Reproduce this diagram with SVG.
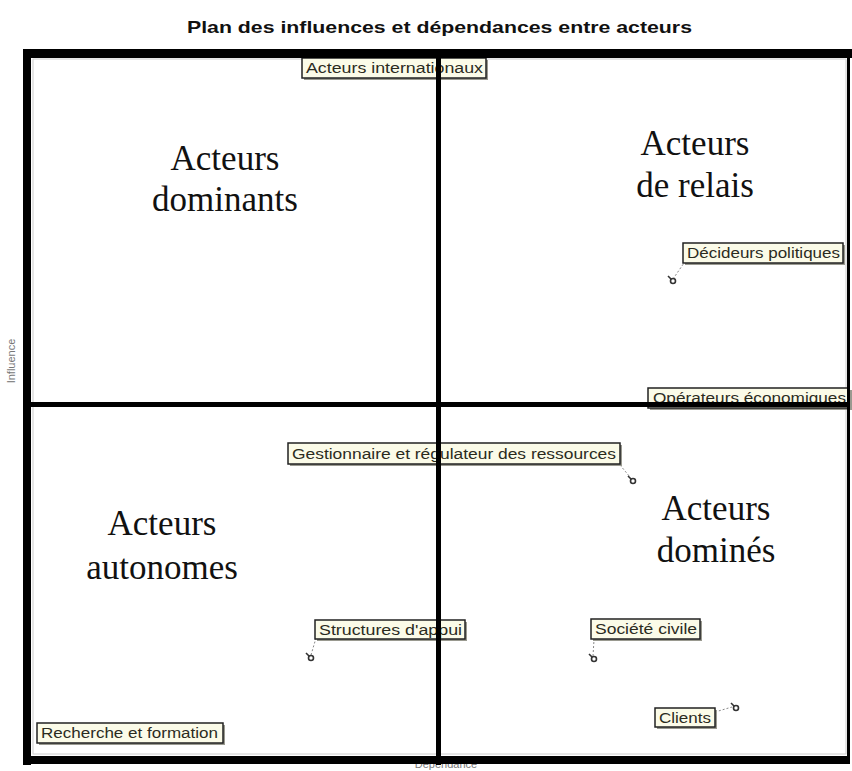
<svg xmlns="http://www.w3.org/2000/svg" width="852" height="771" viewBox="0 0 852 771">
<style>
.title{font-family:"Liberation Sans",Arial,sans-serif;font-weight:bold;font-size:17px;fill:#111}
.big{font-family:"Liberation Serif","Times New Roman",serif;font-size:35px;fill:#111;text-anchor:middle}
.axis{font-family:"Liberation Sans",Arial,sans-serif;font-size:11px;fill:#777}
.lbl rect.box{fill:#fbfbe8;stroke:#222;stroke-width:1.5}
.lbl rect.sh{fill:#9a9a90}
.lbl text{font-family:"Liberation Sans",Arial,sans-serif;font-size:14px;fill:#2b2b1e}
.lead{stroke:#888;stroke-width:1;stroke-dasharray:2 2;fill:none}
.mk circle{fill:none;stroke:#333;stroke-width:1.6}
.mk line{stroke:#333;stroke-width:1.6}
.thick{fill:#000}
</style>
<rect width="852" height="771" fill="#fff"/>
<text class="title" x="187" y="33" textLength="505" lengthAdjust="spacingAndGlyphs">Plan des influences et dépendances entre acteurs</text>
<rect x="33" y="59" width="813" height="695" fill="none" stroke="#ccc" stroke-width="1"/>
<text class="axis" transform="translate(15,361) rotate(-90)" text-anchor="middle">Influence</text>
<text class="axis" x="446" y="768" text-anchor="middle" font-size="12">Dépendance</text>

<g id="q-dominants"><text class="big" x="225" y="170">Acteurs</text><text class="big" x="225" y="211">dominants</text></g>
<g id="q-relais"><text class="big" x="695" y="155">Acteurs</text><text class="big" x="695" y="197">de relais</text></g>
<g id="q-autonomes"><text class="big" x="162" y="535">Acteurs</text><text class="big" x="162" y="579">autonomes</text></g>
<g id="q-domines"><text class="big" x="716" y="520">Acteurs</text><text class="big" x="716" y="562">dominés</text></g>

<g id="connectors">
<line class="lead" x1="673" y1="279" x2="684" y2="263"/>
<line class="lead" x1="620" y1="465" x2="630" y2="477"/>
<line class="lead" x1="311" y1="655" x2="316" y2="638"/>
<line class="lead" x1="593" y1="656" x2="594" y2="640"/>
<line class="lead" x1="715" y1="712" x2="732" y2="707"/>
</g>

<g id="n-internationaux" class="lbl"><rect class="sh" x="304" y="60" width="184" height="20"/><rect class="box" x="302" y="58" width="184" height="20"/><text x="306" y="73" textLength="177" lengthAdjust="spacingAndGlyphs">Acteurs internationaux</text></g>
<g id="n-decideurs" class="lbl"><rect class="sh" x="685" y="245" width="160" height="20"/><rect class="box" x="683" y="243" width="160" height="20"/><text x="687" y="258" textLength="153" lengthAdjust="spacingAndGlyphs">Décideurs politiques</text><g class="mk"><circle cx="673" cy="281" r="2.5"/><line x1="671" y1="279" x2="668" y2="276"/></g></g>
<g id="n-operateurs" class="lbl"><rect class="sh" x="650" y="390" width="202" height="20"/><rect class="box" x="648" y="388" width="201" height="20"/><text x="653" y="403" textLength="193" lengthAdjust="spacingAndGlyphs">Opérateurs économiques</text></g>
<g id="n-gestionnaire" class="lbl"><rect class="sh" x="290" y="445" width="332" height="21"/><rect class="box" x="288" y="443" width="332" height="21"/><text x="292" y="459" textLength="324" lengthAdjust="spacingAndGlyphs">Gestionnaire et régulateur des ressources</text><g class="mk"><circle cx="633" cy="481" r="2.5"/><line x1="631" y1="479" x2="628" y2="476"/></g></g>
<g id="n-structures" class="lbl"><rect class="sh" x="317" y="622" width="150" height="19"/><rect class="box" x="315" y="620" width="150" height="19"/><text x="319" y="635" textLength="143" lengthAdjust="spacingAndGlyphs">Structures d'appui</text><g class="mk"><circle cx="311" cy="658" r="2.5"/><line x1="309" y1="656" x2="306" y2="653"/></g></g>
<g id="n-societe" class="lbl"><rect class="sh" x="593" y="621" width="109" height="20"/><rect class="box" x="591" y="619" width="109" height="20"/><text x="595" y="634" textLength="102" lengthAdjust="spacingAndGlyphs">Société civile</text><g class="mk"><circle cx="594" cy="659" r="2.5"/><line x1="592" y1="657" x2="589" y2="654"/></g></g>
<g id="n-clients" class="lbl"><rect class="sh" x="657" y="710" width="60" height="19"/><rect class="box" x="655" y="708" width="60" height="19"/><text x="659" y="723" textLength="52" lengthAdjust="spacingAndGlyphs">Clients</text><g class="mk"><circle cx="736" cy="708" r="2.5"/><line x1="734" y1="706" x2="731" y2="703"/></g></g>
<g id="n-recherche" class="lbl"><rect class="sh" x="39" y="725" width="186" height="20"/><rect class="box" x="37" y="723" width="186" height="20"/><text x="41" y="738" textLength="177" lengthAdjust="spacingAndGlyphs">Recherche et formation</text></g>

<g id="frame">
<rect class="thick" x="23" y="49" width="829" height="9"/>
<rect class="thick" x="23" y="49" width="8" height="716"/>
<rect class="thick" x="23" y="756" width="827" height="8"/>
<rect class="thick" x="847" y="49" width="3" height="715"/>
<rect class="thick" x="436" y="49" width="5" height="716"/>
<rect class="thick" x="23" y="402" width="827" height="5"/>
</g>
</svg>
